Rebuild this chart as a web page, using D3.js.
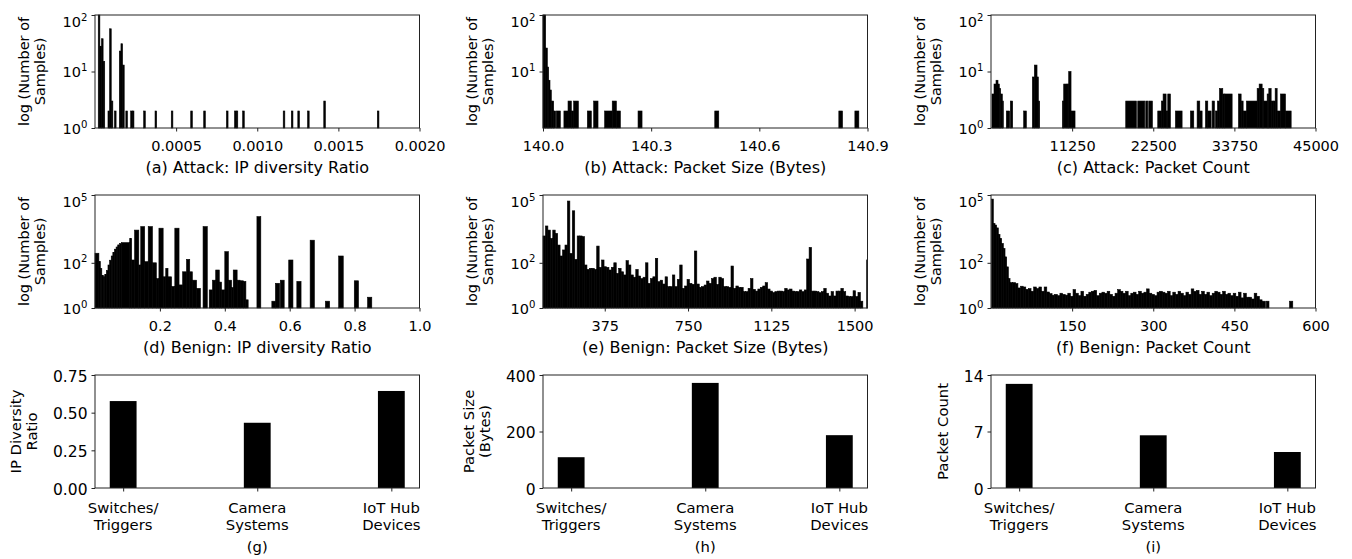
<!DOCTYPE html>
<html><head><meta charset="utf-8">
<script src="https://cdn.jsdelivr.net/npm/d3@7"></script>
<style>
body{margin:0;background:#fff}
text{font-family:"DejaVu Sans",sans-serif;fill:#000}
</style>
</head><body>
<svg id="c" width="1352" height="559"></svg>
<script>
// ---------------- DATA ----------------
// (a) Attack: IP diversity ratio  [binLeft, count], common bin width
const attackIpBinWidth = 0.00001;
const attackIpBars = [[0.00002,100],[0.00003,28],[0.00004,38],[0.00005,15],[0.00008,2],[0.00009,57],[0.00010,3],[0.00012,2],
  [0.00015,23],[0.00016,31],[0.00017,13],[0.00019,2],[0.00022,2],[0.00023,2],[0.00030,2],[0.00037,2],[0.00047,2],[0.00059,2],
  [0.00067,2],[0.00081,2],[0.00086,2],[0.00087,2],[0.00091,2],[0.00116,2],[0.00121,2],[0.00125,2],[0.00131,2],[0.00141,3],[0.00174,2]];

// (b) Attack: packet size  [left, right, count]
const attackSizeBars = [[140.000,140.0074,100],[140.0074,140.012,26],[140.012,140.0157,12],[140.0157,140.0194,7],[140.0194,140.0231,4.7],
  [140.0231,140.0296,3],[140.0296,140.0352,2],[140.037,140.048,2],[140.058,140.0694,2],[140.0694,140.0786,3],[140.0786,140.0851,2],
  [140.0851,140.0981,3],[140.123,140.134,2],[140.1406,140.1526,3],[140.171,140.192,2],[140.192,140.2035,3],[140.2035,140.2146,2],
  [140.2636,140.2747,2],[140.4764,140.4875,2],[140.8205,140.8307,2],[140.865,140.876,2]];

// (c) Attack: packet count  [left, right, count]
const attackCountBars = [[139,416,4],[416,694,6],[694,971,7],[971,1156,6],[1156,1341,5],[1341,1573,4],[1573,1711,3],[2128,2590,2],
  [2683,3006,3],[4533,4903,2],[5735,6013,8],[6013,6383,13],[6383,6568,8],[6568,6753,3],[9898,10083,3],[10083,10545,6],[10545,10776,6],
  [10776,11100,10],[11100,11655,2],[18685,20165,3],[20350,21321,3],[21460,21738,3],[21876,22385,3],[23125,23634,2],[23634,23865,3],
  [23865,24281,4],[24281,24513,2],[24513,24883,4],[25576,26501,2],[27658,28120,2],[28583,28953,3],[28953,29276,2],[29739,30063,3],
  [30063,30525,2],[30664,30988,3],[31126,31404,2],[31404,31681,3],[31681,32144,5],[32144,32421,4],[32421,33439,4],[34318,34688,4],
  [34688,34965,3],[34965,35428,2],[35428,36908,3],[36908,37185,5],[37185,37601,6],[37601,37833,5],[37833,38295,3],[38295,38526,4],
  [38526,38850,5],[38850,39128,3],[39128,39405,3],[39405,39683,5],[39683,40145,2],[40145,40839,4],[40839,41625,2]];

// (d) Benign: IP diversity ratio  [left, right, count]
const benignIpBars = [[0.000,0.012,265],[0.012,0.0165,112],[0.0165,0.021,55],[0.021,0.026,28],[0.026,0.030,24],[0.030,0.035,30],
  [0.035,0.040,45],[0.040,0.045,80],[0.045,0.050,130],[0.050,0.055,200],[0.055,0.060,290],[0.060,0.065,400],[0.065,0.070,500],
  [0.070,0.076,620],[0.076,0.082,720],[0.082,0.107,780],[0.107,0.113,1200],[0.113,0.122,133],[0.122,0.135,2800],[0.135,0.141,80],
  [0.141,0.153,4000],[0.153,0.164,112],[0.164,0.177,4000],[0.177,0.189,100],[0.189,0.197,20],[0.197,0.210,3400],[0.210,0.218,24],
  [0.218,0.225,57],[0.225,0.236,24],[0.236,0.246,9],[0.246,0.259,3400],[0.259,0.270,10.5],[0.270,0.282,40],[0.282,0.292,142],
  [0.292,0.300,40],[0.300,0.313,17],[0.313,0.325,7.4],[0.333,0.346,4000],[0.352,0.362,6.3],[0.362,0.372,17],[0.372,0.383,48],
  [0.383,0.390,14],[0.390,0.400,6.3],[0.400,0.411,310],[0.411,0.421,17],[0.421,0.426,8],[0.426,0.438,48],[0.438,0.447,17],
  [0.447,0.457,16],[0.457,0.465,15],[0.465,0.472,2.3],[0.499,0.511,11000],[0.545,0.556,2],[0.556,0.569,12.4],[0.571,0.583,17],
  [0.597,0.610,133],[0.622,0.635,15],[0.663,0.676,1000],[0.710,0.723,2],[0.751,0.765,200],[0.799,0.812,16],[0.840,0.853,3]];

// (e) Benign: packet size, consecutive bins over benignSizeRange
const benignSizeRange = [97, 1537];
const benignSizeCounts = [1540,4260,2800,1200,2800,2000,610,200,370,610,54000,260,20000,142,1540,1540,1440,80,51,57,
  57,51,550,63,133,67,63,48,63,100,34,57,40,29,124,80,29,23,51,26,20,23,100,12.3,20,24,158,14.6,17,11.5,
  24,8.8,8.8,29,8.8,18.5,80,7.4,9.4,18.5,12.3,11.2,333,11.5,8.2,8.8,
  10.4,15.6,12.3,20,23,11,23,20,8.8,8.8,8.2,72,7.4,9.4,8.2,8.2,5.3,5.3,7.4,20,6.7,5.6,6.9,8.2,9.4,13.2,6.9,5.6,4.8,5.3,
  5.6,5.6,5.3,7.4,6.3,6.9,5.6,5.3,5.3,6.3,5.3,6.3,147,480,5.6,5.6,5.3,4.8,5.3,7.4,4.5,3.4,5.3,3.4,5.6,5.6,7.4,5.3,3.4,3.2,
  3.2,5.8,3.2,4.9,2];
const benignSizeEdge = [[1554,1558,133]];

// (f) Benign: packet count
const benignCountHeadRange = [1.2, 35.2];
const benignCountHead = [66000,5500,4700,3500,1800,1200,720,430,183,66,20];
const benignCountBodyRange = [35.2, 501.2];
const benignCountBody = [13.3,13.3,12,7.7,9.2,8.5,6.7,7.2,5.5,8.5,7.2,8.5,5.5,8.5,5.1,4.3,3.7,
  4,3.5,4.5,4,3.7,4.5,3.3,6.5,4.5,3.5,5.5,3.3,4,5,5.5,6,3.5,4.5,5,4.5,5.5,4,3.3,4.5,6.5,5.5,4.5,5.5,3.5,4.5,
  5,4,5.5,4.5,5,7,4.5,4,3.5,5,5.5,5,4.5,5.5,3.5,5,4,5.5,4.5,3.5,5,4,7,5.5,6,4,5.5,4,5,3.5,
  4.5,5.5,5,4,5.5,4,4.5,3.5,4.5,3.3,5,2.8,4.5,3,3,2.5,4.5,3.3,2.3];
const benignCountTail = [[501.2,507.4,2],[509,514,2],[552,558,2]];

// (g)(h)(i) per device category
const categories = [["Switches/","Triggers"],["Camera","Systems"],["IoT Hub","Devices"]];
const ipDiversity = [0.577, 0.433, 0.644];
const packetSize = [109, 372, 187];
const packetCount = [12.9, 6.53, 4.46];

// tick values
const ticksA = [0.0005,0.0010,0.0015,0.0020];
const ticksB = [140.0,140.3,140.6,140.9];
const ticksC = [11250,22500,33750,45000];
const ticksD = [0.2,0.4,0.6,0.8,1.0];
const ticksE = [375,750,1125,1500];
const ticksF = [150,300,450,600];

// ---------------- LAYOUT ----------------
const svg = d3.select("#c");
const COLS = [95, 543, 991], W = 324.5;
const ROWS = [15, 195, 375], H = 113;
const FS = 14.5, CAP = 16, BAR_TICK = 15.5, BAR_LAB = 14.8;
const INK = "#222";

function even(range, counts){
  const w = (range[1]-range[0])/counts.length;
  return counts.map((c,i)=>[range[0]+i*w, range[0]+(i+1)*w, c]);
}

function frame(g, x0, y0){
  g.append("rect").attr("x",x0).attr("y",y0).attr("width",W).attr("height",H)
    .attr("fill","none").attr("stroke",INK).attr("stroke-width",1);
}

function styleAxis(ax, fs){
  ax.attr("font-size",fs).attr("font-family","DejaVu Sans");
  ax.select(".domain").remove();
  ax.selectAll(".tick line").attr("stroke",INK);
}

function ylabel(lines, offs, x0, yc, fs){
  lines.forEach((t,i)=>{
    svg.append("text").attr("transform",`translate(${x0-offs[i]},${yc}) rotate(-90)`)
      .attr("text-anchor","middle").attr("font-size",fs).text(t);
  });
}

function logPanel(col,row,o){
  const x0 = COLS[col], y0 = ROWS[row];
  const x = d3.scaleLinear().domain(o.xDomain).range([x0, x0+W]);
  const y = d3.scaleLog().domain([1, o.yMax]).range([y0+H, y0]);
  const g = svg.append("g");
  g.selectAll("rect.bar").data(o.bars.filter(d=>d[2]>1)).join("rect").attr("class","bar")
    .attr("x", d=>x(d[0])).attr("width", d=>Math.max(0.8, x(d[1])-x(d[0])))
    .attr("y", d=>y(d[2])).attr("height", d=>y(1)-y(d[2]))
    .attr("fill","#000").attr("stroke","#000").attr("stroke-width",0.6);
  frame(g, x0, y0);
  const xa = g.append("g").attr("transform",`translate(0,${y0+H})`)
    .call(d3.axisBottom(x).tickValues(o.xTicks).tickFormat(o.xFmt).tickSize(3.5).tickPadding(9.7));
  styleAxis(xa, FS);
  const ya = g.append("g").attr("transform",`translate(${x0},0)`)
    .call(d3.axisLeft(y).tickValues(o.yTicks).tickSize(3.5).tickPadding(4));
  styleAxis(ya, FS);
  ya.selectAll(".tick text").each(function(d){
    const t = d3.select(this);
    t.text(null).attr("dy", d===o.yMax ? "0.80em" : "0.365em");
    t.append("tspan").text("10");
    t.append("tspan").attr("font-size","70%").attr("dy","-0.62em").text(Math.round(Math.log10(d)));
  });
  ylabel(["log (Number of","Samples)"],[66.5,50], x0, y0+H/2, FS);
  svg.append("text").attr("x",x0+W/2).attr("y",y0+H+45).attr("text-anchor","middle")
    .attr("font-size",CAP).text(o.caption);
}

function barPanel(col,o){
  const x0 = COLS[col], y0 = ROWS[2];
  const x = d3.scaleLinear().domain([-0.21,2.21]).range([x0,x0+W]);
  const y = d3.scaleLinear().domain([0,o.yMax]).range([y0+H,y0]);
  const g = svg.append("g");
  g.selectAll("rect.bar").data(o.values).join("rect").attr("class","bar")
    .attr("x",(d,i)=>x(i-0.1)).attr("width",x(0.1)-x(-0.1))
    .attr("y",d=>y(d)).attr("height",d=>y(0)-y(d)).attr("fill","#000");
  frame(g, x0, y0);
  const xa = g.append("g").attr("transform",`translate(0,${y0+H})`)
    .call(d3.axisBottom(x).tickValues([0,1,2]).tickFormat("").tickSize(3.5));
  styleAxis(xa, BAR_LAB);
  categories.forEach((lines,i)=>{
    lines.forEach((t,j)=>{
      svg.append("text").attr("x",x(i)).attr("y",y0+H+25+j*17).attr("text-anchor","middle")
        .attr("font-size",BAR_LAB).text(t);
    });
  });
  const ya = g.append("g").attr("transform",`translate(${x0},0)`)
    .call(d3.axisLeft(y).tickValues(o.yTicks).tickFormat(o.yFmt).tickSize(3.5).tickPadding(4));
  styleAxis(ya, BAR_TICK);
  ya.selectAll(".tick text").attr("dy","0.40em");
  ylabel(o.ylabel, o.yoffs, x0, y0+H/2, BAR_LAB);
  svg.append("text").attr("x",x0+W/2).attr("y",552).attr("text-anchor","middle")
    .attr("font-size",BAR_LAB).text(o.caption);
}

// ---------------- DRAW ----------------
logPanel(0,0,{xDomain:[0,0.002], yMax:100, yTicks:[1,10,100], xTicks:ticksA, xFmt:d3.format(".4f"),
  bars: attackIpBars.map(d=>[d[0], d[0]+attackIpBinWidth, d[1]]), caption:"(a) Attack: IP diversity Ratio"});
logPanel(1,0,{xDomain:[140,140.9], yMax:100, yTicks:[10,100], xTicks:ticksB, xFmt:d3.format(".1f"),
  bars: attackSizeBars, caption:"(b) Attack: Packet Size (Bytes)"});
logPanel(2,0,{xDomain:[0,45000], yMax:100, yTicks:[1,10,100], xTicks:ticksC, xFmt:d=>String(d),
  bars: attackCountBars, caption:"(c) Attack: Packet Count"});
logPanel(0,1,{xDomain:[0,1], yMax:1e5, yTicks:[1,100,1e5], xTicks:ticksD, xFmt:d3.format(".1f"),
  bars: benignIpBars, caption:"(d) Benign: IP diversity Ratio"});
logPanel(1,1,{xDomain:[97,1558], yMax:1e5, yTicks:[1,100,1e5], xTicks:ticksE, xFmt:d=>String(d),
  bars: even(benignSizeRange, benignSizeCounts).concat(benignSizeEdge), caption:"(e) Benign: Packet Size (Bytes)"});
logPanel(2,1,{xDomain:[0,600], yMax:1e5, yTicks:[1,100,1e5], xTicks:ticksF, xFmt:d=>String(d),
  bars: even(benignCountHeadRange, benignCountHead).concat(even(benignCountBodyRange, benignCountBody), benignCountTail),
  caption:"(f) Benign: Packet Count"});

barPanel(0,{values:ipDiversity, yMax:0.75, yTicks:[0,0.25,0.5,0.75], yFmt:d3.format(".2f"),
  ylabel:["IP Diversity","Ratio"], yoffs:[74,57.7], caption:"(g)"});
barPanel(1,{values:packetSize, yMax:400, yTicks:[0,200,400], yFmt:d=>String(d),
  ylabel:["Packet Size","(Bytes)"], yoffs:[69,53], caption:"(h)"});
barPanel(2,{values:packetCount, yMax:14, yTicks:[0,7,14], yFmt:d=>String(d),
  ylabel:["Packet Count"], yoffs:[42.7], caption:"(i)"});
</script>
</body></html>
